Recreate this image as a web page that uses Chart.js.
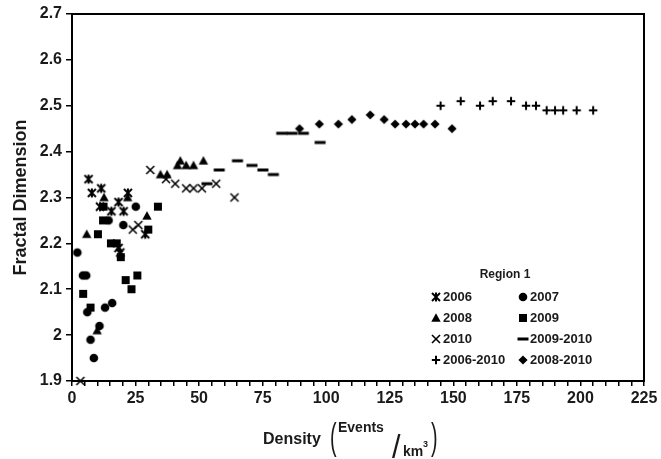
<!DOCTYPE html>
<html><head><meta charset="utf-8">
<script src="https://cdn.jsdelivr.net/npm/chart.js@4/dist/chart.umd.min.js"></script>
<style>html,body{margin:0;padding:0;background:#fff}canvas{display:block}</style>
</head><body>
<canvas id="c" width="661" height="459"></canvas>
<script>
// ---- tick labels / text ----
const xTickLabels = ['0','25','50','75','100','125','150','175','200','225'];
const yTickLabels = ['1.9','2','2.1','2.2','2.3','2.4','2.5','2.6','2.7'];
const seriesNames = ['2006','2007','2008','2009','2010','2009-2010','2006-2010','2008-2010'];
const legendTitle = 'Region 1';
const yTitle = 'Fractal Dimension';

// ---- data ----
const s2006x = [6.5, 7.8, 11.5, 11.0, 15.5, 18.3, 20.3, 22.0, 18.3, 19.0, 28.8];
const s2006y = [2.34, 2.31, 2.32, 2.28, 2.27, 2.29, 2.27, 2.31, 2.19, 2.18, 2.22];
const s2007x = [2.1, 4.3, 5.6, 6.0, 7.3, 8.6, 10.8, 13.0, 15.8, 14.4, 20.2, 25.1];
const s2007y = [2.18, 2.13, 2.13, 2.05, 1.99, 1.95, 2.02, 2.06, 2.07, 2.25, 2.24, 2.28];
const s2008x = [5.8, 9.9, 12.6, 21.9, 29.5, 34.8, 37.4, 41.5, 42.6, 44.9, 47.8, 51.7];
const s2008y = [2.22, 2.01, 2.30, 2.30, 2.26, 2.35, 2.35, 2.37, 2.38, 2.37, 2.37, 2.38];
const s2009x = [4.4, 7.3, 10.2, 12.4, 12.2, 15.3, 17.6, 19.2, 21.1, 23.4, 25.7, 30.0, 33.8];
const s2009y = [2.09, 2.06, 2.22, 2.28, 2.25, 2.20, 2.20, 2.17, 2.12, 2.10, 2.13, 2.23, 2.28];
const s2010x = [3.3, 23.9, 26.1, 30.8, 37.0, 40.6, 44.9, 47.8, 51.1, 56.7, 63.9];
const s2010y = [1.90, 2.23, 2.24, 2.36, 2.34, 2.33, 2.32, 2.32, 2.32, 2.33, 2.30];
const s0910x = [53.1, 57.9, 65.1, 70.8, 75.1, 79.2, 82.5, 86.5, 91.0, 97.6];
const s0910y = [2.33, 2.36, 2.38, 2.37, 2.36, 2.35, 2.44, 2.44, 2.44, 2.42];
const s0610x = [145.0, 152.9, 160.5, 165.5, 172.7, 178.6, 182.5, 186.7, 190.0, 193.2, 198.5, 205.0];
const s0610y = [2.50, 2.51, 2.50, 2.51, 2.51, 2.50, 2.50, 2.49, 2.49, 2.49, 2.49, 2.49];
const s0810x = [89.5, 97.3, 104.8, 110.1, 117.3, 122.8, 127.1, 131.4, 134.9, 138.3, 142.8, 149.5];
const s0810y = [2.45, 2.46, 2.46, 2.47, 2.48, 2.47, 2.46, 2.46, 2.46, 2.46, 2.46, 2.45];

// ---- marker images ----
function mk(fn){const c=document.createElement('canvas');c.width=14;c.height=14;const g=c.getContext('2d');g.translate(7,7);g.fillStyle='#000';g.strokeStyle='#000';fn(g);return c;}
function line(g,a,b,c,d){g.beginPath();g.moveTo(a,b);g.lineTo(c,d);g.stroke();}
const M = {
  star: mk(g=>{g.lineWidth=2;line(g,-4,-4,4,4);line(g,-4,4,4,-4);line(g,0,-4.5,0,4.5);}),
  circle: mk(g=>{g.beginPath();g.arc(0,0,4.3,0,Math.PI*2);g.fill();}),
  tri: mk(g=>{g.beginPath();g.moveTo(0,-4.8);g.lineTo(4.7,3.8);g.lineTo(-4.7,3.8);g.closePath();g.fill();}),
  square: mk(g=>{g.fillRect(-4,-4,8,8);}),
  x: mk(g=>{g.lineWidth=1.6;line(g,-4,-4,4,4);line(g,-4,4,4,-4);}),
  dash: mk(g=>{g.fillRect(-5.5,-1.5,11,3);}),
  plus: mk(g=>{g.lineWidth=2;line(g,-4.2,0,4.2,0);line(g,0,-4.2,0,4.2);}),
  diamond: mk(g=>{g.beginPath();g.moveTo(0,-4.6);g.lineTo(4.6,0);g.lineTo(0,4.6);g.lineTo(-4.6,0);g.closePath();g.fill();})
};
const styles = [M.star, M.circle, M.tri, M.square, M.x, M.dash, M.plus, M.diamond];
const xs = [s2006x,s2007x,s2008x,s2009x,s2010x,s0910x,s0610x,s0810x];
const ys = [s2006y,s2007y,s2008y,s2009y,s2010y,s0910y,s0610y,s0810y];

const datasets = seriesNames.map((n,i)=>({
  label:n,
  data: xs[i].map((x,j)=>({x:x,y:ys[i][j]})),
  pointStyle: styles[i], pointRadius:5, clip:false,
  backgroundColor:'#000', borderColor:'#000'
}));

const FONT = '"Liberation Sans", Arial, sans-serif';

const framePlugin = {
  id:'frame',
  afterDraw(chart){
    const ctx=chart.ctx, a=chart.chartArea;
    ctx.save();
    ctx.strokeStyle='#000'; ctx.lineWidth=2;
    ctx.strokeRect(a.left, a.top, a.right-a.left, a.bottom-a.top);
    // legend
    ctx.fillStyle='#1a1a1a';
    ctx.font='bold 12px '+FONT; ctx.textAlign='center'; ctx.textBaseline='middle';
    ctx.fillText(legendTitle, 505, 275);
    const rowsY=[297,318,339,360], colM=[436,523], colT=[443,530];
    ctx.font='bold 13px '+FONT; ctx.textAlign='left';
    seriesNames.forEach((n,i)=>{
      const r=Math.floor(i/2), c=i%2;
      const img=styles[i];
      ctx.drawImage(img, colM[c]-7, rowsY[r]-7);
      ctx.fillText(n, colT[c], rowsY[r]+0.5);
    });
    // x axis title: Density (Events / km3)
    ctx.textBaseline='alphabetic';
    ctx.font='bold 16px '+FONT;
    ctx.fillText('Density', 263, 444);
    ctx.font='36px '+FONT;
    ctx.save(); ctx.translate(330,449); ctx.scale(0.55,1); ctx.fillText('(',0,0); ctx.restore();
    ctx.font='bold 14px '+FONT;
    ctx.fillText('Events', 338, 432);
    ctx.font='34px '+FONT;
    ctx.save(); ctx.translate(392,458); ctx.scale(0.9,1); ctx.fillText('/',0,0); ctx.restore();
    ctx.font='bold 14px '+FONT;
    ctx.fillText('km', 403, 456);
    ctx.font='bold 9px '+FONT;
    ctx.fillText('3', 423, 447);
    ctx.font='36px '+FONT;
    ctx.save(); ctx.translate(431,449); ctx.scale(0.55,1); ctx.fillText(')',0,0); ctx.restore();
    ctx.restore();
  }
};

new Chart(document.getElementById('c'), {
  type:'scatter',
  data:{datasets},
  options:{
    responsive:false, animation:false, events:[],
    layout:{padding:{top:14,right:17,left:0,bottom:0}},
    plugins:{legend:{display:false},tooltip:{enabled:false}},
    scales:{
      x:{
        type:'linear', min:0, max:225,
        afterFit(s){s.height=78;},
        ticks:{stepSize:5, autoSkip:false, maxRotation:0, padding:3, color:'#1a1a1a',
          font:{family:FONT, size:16, weight:'bold'},
          callback:(v)=> (Math.round(v)%25===0 ? xTickLabels[Math.round(v)/25] : '')},
        grid:{drawOnChartArea:false, drawTicks:true, tickLength:5, color:'#000', lineWidth:1.5},
        border:{display:true, color:'#000', width:2}
      },
      y:{
        type:'linear', min:1.9, max:2.7,
        afterFit(s){s.width=72;},
        ticks:{stepSize:0.1, padding:4, color:'#1a1a1a',
          font:{family:FONT, size:16, weight:'bold'},
          callback:(v)=> yTickLabels[Math.round((v-1.9)*10)]},
        grid:{drawOnChartArea:false, drawTicks:true, tickLength:6, color:'#000', lineWidth:1.5},
        border:{display:true, color:'#000', width:2},
        title:{display:true, text:yTitle, color:'#1a1a1a', padding:{top:10,bottom:0},
          font:{family:FONT, size:18, weight:'bold'}}
      }
    }
  },
  plugins:[framePlugin]
});
</script>
</body></html>
